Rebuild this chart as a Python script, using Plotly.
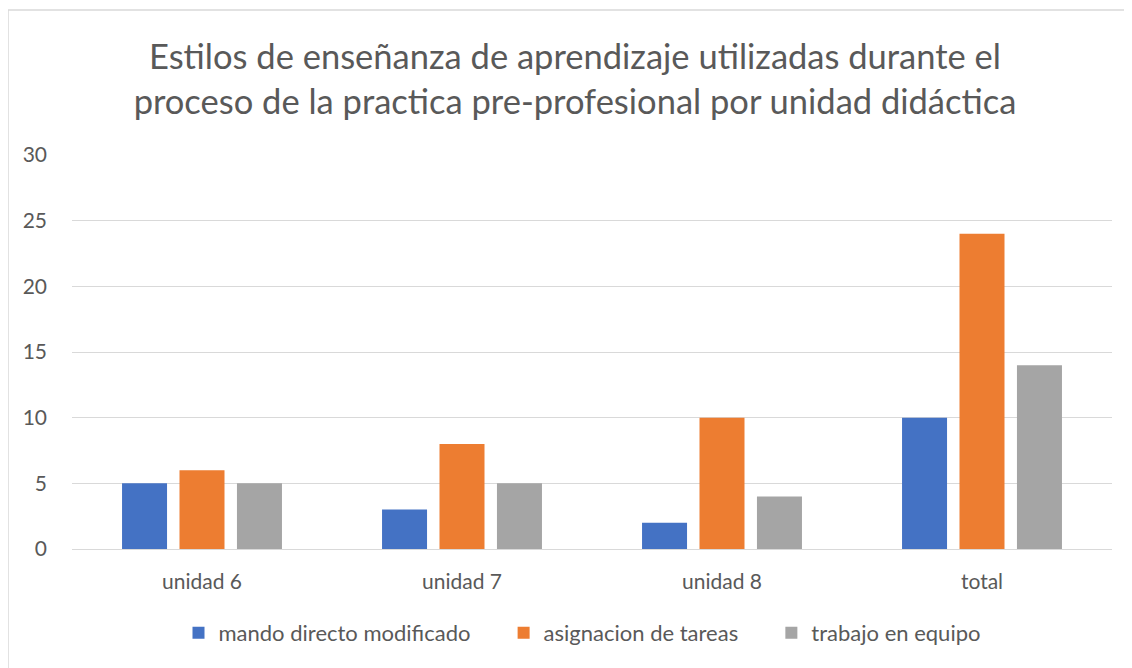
import plotly.graph_objects as go

categories = ["unidad 6", "unidad 7", "unidad 8", "total"]
series_names = ["mando directo modificado", "asignacion de tareas", "trabajo en equipo"]
mando = [5, 3, 2, 10]
asignacion = [6, 8, 10, 24]
trabajo = [5, 5, 4, 14]
colors = ["#4472C4", "#ED7D31", "#A5A5A5"]
y_ticks = [0, 5, 10, 15, 20, 25, 30]

FONT = "Lato, Liberation Sans, sans-serif"
PAD = "\u00a0" * 5
fig = go.Figure()
for i, (name, vals, col) in enumerate(zip(series_names, [mando, asignacion, trabajo], colors)):
    label = name + (PAD if i < len(series_names) - 1 else "")
    fig.add_trace(go.Bar(x=categories, y=vals, name=label, marker_color=col,
                         marker_line_width=0))

# figure is placed at (8,8) by the page body margin
W, H = 1124, 660
L, R, T, B = 64, 20, 147, 119
pw, ph = W - L - R, H - T - B

fig.update_layout(
    width=W, height=H,
    margin=dict(l=L, r=R, t=T, b=B, pad=0),
    paper_bgcolor="white", plot_bgcolor="white",
    barmode="group", bargap=0.337, bargroupgap=0.217,
    font=dict(family=FONT, color="#595959", size=22),
    title=dict(text="Estilos de enseñanza de aprendizaje utilizadas durante el<br>proceso de la practica pre-profesional por unidad didáctica",
               x=567 / W, xanchor="center", y=1 - 61 / H, yanchor="middle",
               font=dict(size=34.5, color="#595959", family=FONT)),
    legend=dict(orientation="h", x=0.5 - 10 / pw, xanchor="center", y=(541 - 625) / ph, yanchor="middle",
                font=dict(size=22, color="#595959"), itemwidth=30, traceorder="normal"),
    showlegend=True,
)
fig.update_yaxes(range=[0, 30], tickvals=y_ticks, showgrid=True, gridcolor="#D9D9D9", gridwidth=1,
                 zeroline=False, showline=False, ticks="", ticklabelstandoff=24,
                 tickfont=dict(size=21, color="#595959"))
fig.update_xaxes(showline=True, linecolor="#D9D9D9", linewidth=1, ticks="", ticklabelstandoff=14,
                 tickfont=dict(size=21, color="#595959"))
fig.add_shape(type="rect", xref="paper", yref="paper",
              x0=(0 - L) / pw, x1=(W + 10 - L) / pw, y0=-(H + 10 - (H - B)) / ph, y1=(H - B - 2) / ph,
              line=dict(color="#D9D9D9", width=1.5), fillcolor="rgba(0,0,0,0)", layer="below")
fig.write_html("out.html")
